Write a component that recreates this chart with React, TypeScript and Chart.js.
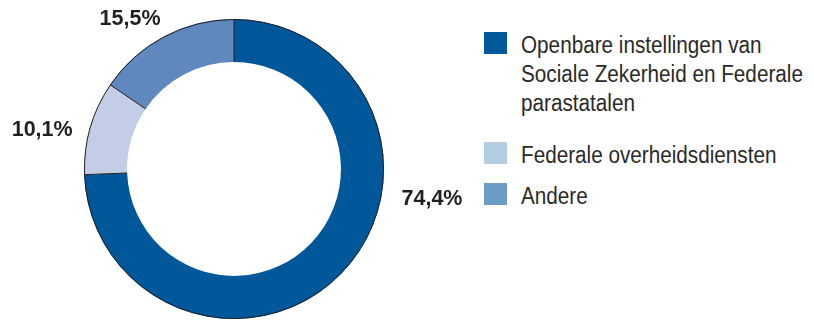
import React, { useEffect, useRef } from "react";
import { Chart, registerables } from "chart.js";

Chart.register(...registerables);

const categories = [
  "Openbare instellingen van Sociale Zekerheid en Federale parastatalen",
  "Federale overheidsdiensten",
  "Andere",
];
const legendLines = [
  ["Openbare instellingen van", "Sociale Zekerheid en Federale", "parastatalen"],
  ["Federale overheidsdiensten"],
  ["Andere"],
];
const shares = [74.4, 10.1, 15.5];
const sliceColors = ["#00589b", "#c3cee6", "#5f88bf"];
const legendColors = ["#00589b", "#b3cee2", "#6a9cc4"];
// label placement (angle clockwise from 12 o'clock, distance as fraction of outer radius)
const labelAnchors = [
  { angle: 98.6, dist: 1.335 },
  { angle: 281.5, dist: 1.305 },
  { angle: 325.3, dist: 1.217 },
];
const legendGaps = [23, 12, 0];

const fmt = (v: number) => v.toFixed(1).replace(".", ",") + "%";

const ringPlugin = {
  id: "ringOutline",
  afterDatasetsDraw(chart: any) {
    const meta = chart.getDatasetMeta(0);
    const ctx = chart.ctx;
    ctx.save();
    ctx.strokeStyle = "#231f20";
    ctx.lineWidth = 1;
    meta.data.forEach((arc: any) => {
      const { x, y, startAngle, endAngle, innerRadius, outerRadius } = arc.getProps(
        ["x", "y", "startAngle", "endAngle", "innerRadius", "outerRadius"],
        true
      );
      ctx.beginPath();
      ctx.arc(x, y, outerRadius - 0.5, startAngle, endAngle);
      ctx.stroke();
      ctx.beginPath();
      ctx.moveTo(x + Math.cos(startAngle) * innerRadius, y + Math.sin(startAngle) * innerRadius);
      ctx.lineTo(x + Math.cos(startAngle) * outerRadius, y + Math.sin(startAngle) * outerRadius);
      ctx.stroke();
    });
    ctx.restore();
  },
};

const labelPlugin = {
  id: "pctLabels",
  afterDraw(chart: any) {
    const meta = chart.getDatasetMeta(0);
    const ctx = chart.ctx;
    ctx.save();
    ctx.font = "bold 21.5px 'Liberation Sans', Arial, sans-serif";
    ctx.fillStyle = "#231f20";
    ctx.textAlign = "center";
    ctx.textBaseline = "middle";
    meta.data.forEach((arc: any, i: number) => {
      const { x, y, outerRadius } = arc.getProps(["x", "y", "outerRadius"], true);
      const a = (labelAnchors[i].angle * Math.PI) / 180;
      const r = outerRadius * labelAnchors[i].dist;
      ctx.fillText(fmt(shares[i]), x + Math.sin(a) * r, y - Math.cos(a) * r);
    });
    ctx.restore();
  },
};

export default function App() {
  const ref = useRef<HTMLCanvasElement>(null);
  useEffect(() => {
    if (!ref.current) return;
    const chart = new Chart(ref.current, {
      type: "doughnut",
      data: {
        labels: categories,
        datasets: [
          {
            data: shares,
            backgroundColor: sliceColors,
            borderWidth: 0,
          },
        ],
      },
      options: {
        animation: false,
        responsive: false,
        maintainAspectRatio: false,
        cutout: "71.3%",
        layout: { padding: { top: 19, bottom: 1, left: 0, right: 2 } },
        plugins: {
          legend: { display: false },
          tooltip: { enabled: false },
        },
      },
      plugins: [ringPlugin, labelPlugin],
    });
    return () => chart.destroy();
  }, []);

  return (
    <div style={{ position: "absolute", left: 0, top: 0, width: 814, height: 320, background: "#fff", overflow: "hidden" }}>
      <canvas ref={ref} width={470} height={320} style={{ position: "absolute", left: 0, top: 0 }} />
      <div
        style={{
          position: "absolute",
          left: 484,
          top: 31,
          fontFamily: "'Liberation Sans', Arial, sans-serif",
          fontSize: 23,
          color: "#2a2a2a",
          lineHeight: "29px",
        }}
      >
        {legendLines.map((lines, i) => (
          <div key={i} style={{ position: "relative", paddingLeft: 37, marginBottom: legendGaps[i] }}>
            <span
              style={{
                position: "absolute",
                left: 0,
                top: 1,
                width: 23,
                height: 22,
                background: legendColors[i],
              }}
            />
            {lines.map((l, j) => (
              <div
                key={j}
                style={{ whiteSpace: "nowrap", transform: "scaleX(0.9)", transformOrigin: "0 0" }}
              >
                {l}
              </div>
            ))}
          </div>
        ))}
      </div>
    </div>
  );
}
